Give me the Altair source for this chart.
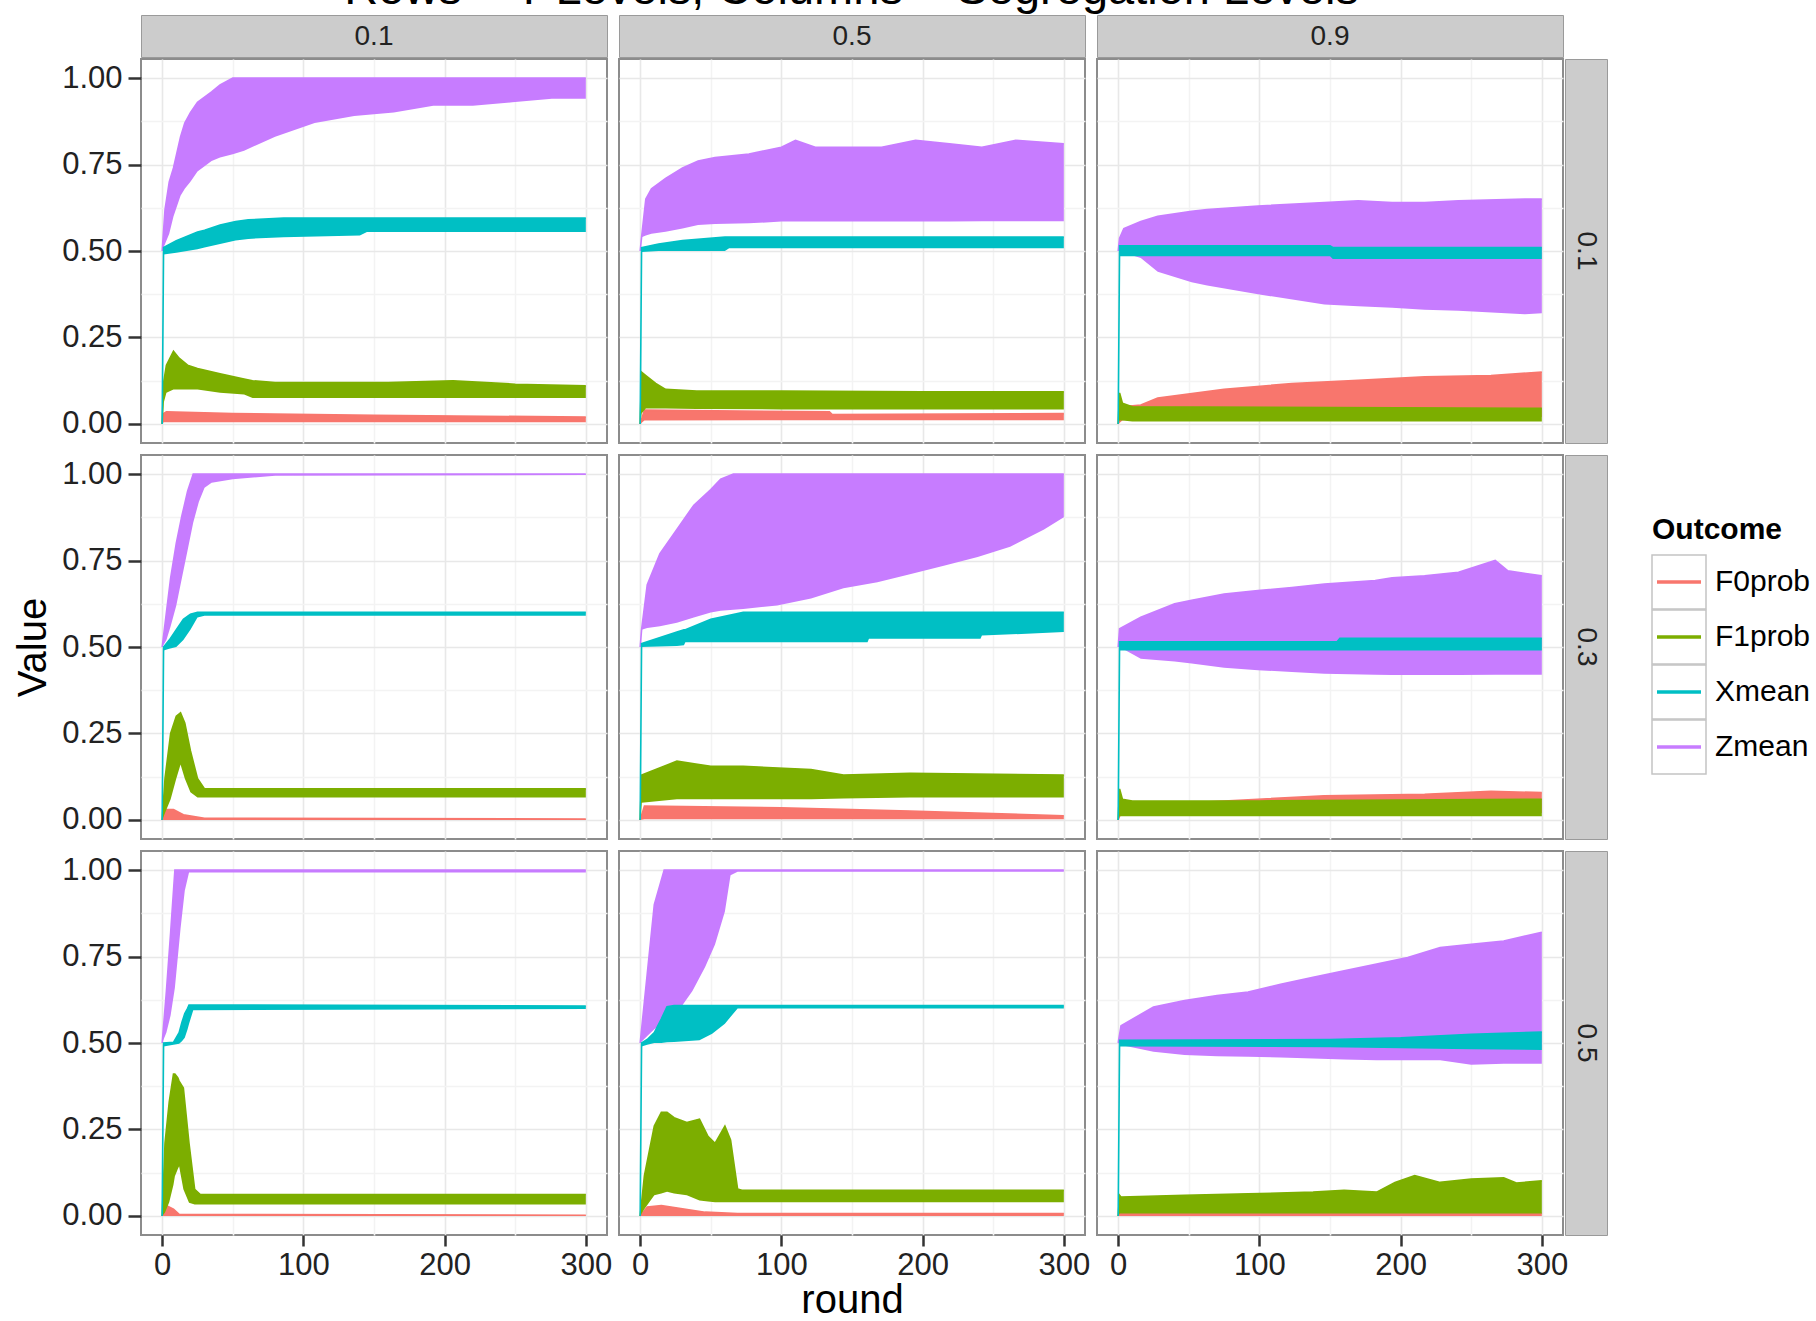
import altair as alt
import pandas as pd

# ---------------- categories / labels ----------------
ROW_LEVELS = ["0.1", "0.3", "0.5"]
COL_LEVELS = ["0.1", "0.5", "0.9"]
OUTCOMES = ["F0prob", "F1prob", "Xmean", "Zmean"]
COLORS = ["#F8766D", "#7CAE00", "#00BFC4", "#C77CFF"]
DRAW_ORDER = ["F0prob", "F1prob", "Zmean", "Xmean"]
X_GRID = [0, 50, 100, 150, 200, 250, 300]
Y_GRID = [0.0, 0.125, 0.25, 0.375, 0.5, 0.625, 0.75, 0.875, 1.0]
TITLE = "Rows = T Levels, Columns = Segregation Levels"
LEGEND_TITLE = "Outcome"

# ------------- band envelopes (lower / upper) -------------
# row 0.1, column 0.1
R1C1_F0_ROUND = [0, 1, 3, 50, 150, 300]
R1C1_F0_LO = [0, 0.005, 0.005, 0.005, 0.005, 0.005]
R1C1_F0_HI = [0, 0.03, 0.035, 0.03, 0.025, 0.02]
R1C1_F1_ROUND = [0, 1, 3, 8, 12, 18, 25, 41, 58, 64, 80, 120, 160, 206, 250, 300]
R1C1_F1_LO = [0, 0.06, 0.09, 0.10, 0.10, 0.10, 0.10, 0.09, 0.085, 0.075, 0.075, 0.075, 0.075, 0.075, 0.075, 0.075]
R1C1_F1_HI = [0, 0.12, 0.17, 0.21, 0.19, 0.17, 0.16, 0.145, 0.13, 0.125, 0.12, 0.12, 0.12, 0.125, 0.115, 0.11]
R1C1_X_ROUND = [0, 1, 10, 25, 30, 41, 52, 61, 86, 140, 145, 300]
R1C1_X_LO = [0, 0.49, 0.495, 0.505, 0.51, 0.52, 0.53, 0.535, 0.54, 0.545, 0.555, 0.555]
R1C1_X_HI = [0, 0.51, 0.53, 0.555, 0.56, 0.575, 0.585, 0.59, 0.595, 0.595, 0.595, 0.595]
R1C1_Z_ROUND = [0, 2, 5, 8, 13, 16, 20, 25, 35, 41, 50, 58, 80, 108, 136, 164, 192, 220, 248, 276, 300]
R1C1_Z_LO = [0.5, 0.52, 0.55, 0.6, 0.66, 0.68, 0.7, 0.73, 0.76, 0.77, 0.78, 0.79, 0.83, 0.87, 0.89, 0.9, 0.92, 0.92, 0.93, 0.94, 0.94]
R1C1_Z_HI = [0.5, 0.62, 0.7, 0.74, 0.83, 0.87, 0.9, 0.93, 0.96, 0.98, 1.0, 1.0, 1.0, 1.0, 1.0, 1.0, 1.0, 1.0, 1.0, 1.0, 1.0]

# row 0.1, column 0.5
R1C2_F0_ROUND = [0, 3, 134, 136, 300]
R1C2_F0_LO = [0, 0.01, 0.011, 0.011, 0.011]
R1C2_F0_HI = [0, 0.04, 0.035, 0.027, 0.03]
R1C2_F1_ROUND = [0, 1, 4, 11, 18, 40, 100, 200, 300]
R1C2_F1_LO = [0, 0.03, 0.045, 0.045, 0.045, 0.043, 0.042, 0.042, 0.042]
R1C2_F1_HI = [0, 0.15, 0.14, 0.117, 0.1, 0.095, 0.095, 0.093, 0.093]
R1C2_X_ROUND = [0, 1, 13, 30, 60, 63, 300]
R1C2_X_LO = [0, 0.497, 0.5, 0.5, 0.5, 0.508, 0.508]
R1C2_X_HI = [0, 0.51, 0.52, 0.53, 0.54, 0.54, 0.54]
R1C2_Z_ROUND = [0, 1, 4, 8, 18, 30, 41, 53, 77, 100, 110, 124, 150, 171, 195, 219, 242, 266, 300]
R1C2_Z_LO = [0.5, 0.54, 0.545, 0.55, 0.556, 0.565, 0.575, 0.578, 0.58, 0.585, 0.585, 0.585, 0.585, 0.585, 0.585, 0.585, 0.586, 0.586, 0.586]
R1C2_Z_HI = [0.5, 0.54, 0.65, 0.68, 0.71, 0.74, 0.76, 0.77, 0.78, 0.8, 0.82, 0.8, 0.8, 0.8, 0.82, 0.81, 0.8, 0.82, 0.81]

# row 0.1, column 0.9
R1C3_F0_ROUND = [0, 3, 16, 28, 75, 123, 170, 217, 264, 300]
R1C3_F0_LO = [0, 0.01, 0.02, 0.02, 0.02, 0.02, 0.02, 0.02, 0.02, 0.02]
R1C3_F0_HI = [0, 0.05, 0.055, 0.075, 0.1, 0.117, 0.126, 0.136, 0.14, 0.15]
R1C3_F1_ROUND = [0, 1, 3, 10, 300]
R1C3_F1_LO = [0, 0.01, 0.01, 0.007, 0.007]
R1C3_F1_HI = [0, 0.09, 0.06, 0.05, 0.045]
R1C3_X_ROUND = [0, 1, 150, 152, 300]
R1C3_X_LO = [0, 0.485, 0.485, 0.477, 0.477]
R1C3_X_HI = [0, 0.515, 0.515, 0.51, 0.51]
R1C3_Z_ROUND = [0, 1, 4, 16, 28, 52, 63, 99, 146, 170, 194, 217, 241, 288, 300]
R1C3_Z_LO = [0.5, 0.5, 0.495, 0.48, 0.44, 0.41, 0.4, 0.375, 0.345, 0.34, 0.336, 0.33, 0.327, 0.317, 0.32]
R1C3_Z_HI = [0.5, 0.537, 0.565, 0.585, 0.6, 0.615, 0.62, 0.63, 0.64, 0.645, 0.64, 0.64, 0.645, 0.65, 0.65]

# row 0.3, column 0.1
R2C1_F0_ROUND = [0, 3, 8, 15, 30, 300]
R2C1_F0_LO = [0, 0, 0, 0, 0, 0]
R2C1_F0_HI = [0, 0.03, 0.03, 0.015, 0.005, 0.003]
R2C1_F1_ROUND = [0, 2, 6, 10, 13, 16, 20, 25, 30, 300]
R2C1_F1_LO = [0, 0.02, 0.06, 0.12, 0.16, 0.12, 0.08, 0.065, 0.065, 0.065]
R2C1_F1_HI = [0, 0.12, 0.25, 0.3, 0.31, 0.28, 0.2, 0.12, 0.09, 0.09]
R2C1_X_ROUND = [0, 1, 5, 10, 15, 20, 25, 30, 300]
R2C1_X_LO = [0, 0.49, 0.495, 0.5, 0.52, 0.55, 0.585, 0.59, 0.59]
R2C1_X_HI = [0, 0.5, 0.52, 0.55, 0.58, 0.595, 0.6, 0.6, 0.6]
R2C1_Z_ROUND = [0, 3, 6, 10, 14, 18, 22, 26, 30, 35, 50, 80, 300]
R2C1_Z_LO = [0.5, 0.52, 0.56, 0.62, 0.7, 0.78, 0.86, 0.92, 0.96, 0.975, 0.985, 0.995, 0.997]
R2C1_Z_HI = [0.5, 0.6, 0.7, 0.8, 0.88, 0.95, 1.0, 1.0, 1.0, 1.0, 1.0, 1.0, 1.0]

# row 0.3, column 0.5
R2C2_F0_ROUND = [0, 3, 100, 191, 300]
R2C2_F0_LO = [0, 0.002, 0.002, 0.002, 0.002]
R2C2_F0_HI = [0, 0.04, 0.035, 0.026, 0.012]
R2C2_F1_ROUND = [0, 1, 26, 50, 73, 121, 144, 191, 300]
R2C2_F1_LO = [0, 0.05, 0.06, 0.06, 0.06, 0.06, 0.062, 0.065, 0.065]
R2C2_F1_HI = [0, 0.13, 0.17, 0.155, 0.155, 0.146, 0.13, 0.135, 0.13]
R2C2_X_ROUND = [0, 1, 26, 31, 32, 50, 73, 161, 162, 241, 242, 300]
R2C2_X_LO = [0, 0.5, 0.503, 0.505, 0.514, 0.514, 0.514, 0.514, 0.524, 0.524, 0.533, 0.543]
R2C2_X_HI = [0, 0.51, 0.543, 0.55, 0.55, 0.58, 0.6, 0.6, 0.6, 0.6, 0.6, 0.6]
R2C2_Z_ROUND = [0, 1, 5, 14, 26, 38, 50, 57, 66, 73, 97, 121, 144, 168, 191, 215, 239, 262, 286, 300]
R2C2_Z_LO = [0.5, 0.55, 0.555, 0.56, 0.57, 0.585, 0.6, 0.605, 0.608, 0.61, 0.62, 0.64, 0.67, 0.687, 0.71, 0.735, 0.76, 0.79, 0.84, 0.875]
R2C2_Z_HI = [0.5, 0.55, 0.68, 0.77, 0.84, 0.91, 0.955, 0.985, 1.0, 1.0, 1.0, 1.0, 1.0, 1.0, 1.0, 1.0, 1.0, 1.0, 1.0, 1.0]

# row 0.3, column 0.9
R2C3_F0_ROUND = [0, 3, 75, 146, 217, 264, 300]
R2C3_F0_LO = [0, 0.02, 0.02, 0.02, 0.02, 0.02, 0.02]
R2C3_F0_HI = [0, 0.04, 0.055, 0.07, 0.074, 0.083, 0.079]
R2C3_F1_ROUND = [0, 1, 3, 10, 100, 300]
R2C3_F1_LO = [0, 0.011, 0.011, 0.011, 0.011, 0.011]
R2C3_F1_HI = [0, 0.09, 0.06, 0.055, 0.055, 0.06]
R2C3_X_ROUND = [0, 1, 155, 157, 300]
R2C3_X_LO = [0, 0.49, 0.49, 0.49, 0.49]
R2C3_X_HI = [0, 0.515, 0.515, 0.525, 0.525]
R2C3_Z_ROUND = [0, 1, 16, 40, 52, 75, 99, 123, 146, 182, 194, 217, 241, 267, 276, 300]
R2C3_Z_LO = [0.5, 0.5, 0.466, 0.458, 0.452, 0.44, 0.433, 0.428, 0.423, 0.42, 0.419, 0.419, 0.419, 0.42, 0.42, 0.42]
R2C3_Z_HI = [0.5, 0.553, 0.586, 0.625, 0.635, 0.653, 0.663, 0.672, 0.682, 0.692, 0.7, 0.706, 0.716, 0.75, 0.72, 0.706]

# row 0.5, column 0.1
R3C1_F0_ROUND = [0, 3, 8, 12, 300]
R3C1_F0_LO = [0, 0, 0, 0, 0]
R3C1_F0_HI = [0, 0.03, 0.02, 0.005, 0.002]
R3C1_F1_ROUND = [0, 2, 5, 8, 9, 11, 12, 15, 19, 23, 27, 300]
R3C1_F1_LO = [0, 0.01, 0.04, 0.09, 0.115, 0.135, 0.144, 0.077, 0.038, 0.033, 0.033, 0.033]
R3C1_F1_HI = [0, 0.21, 0.33, 0.41, 0.41, 0.4, 0.39, 0.37, 0.21, 0.077, 0.062, 0.062]
R3C1_X_ROUND = [0, 1, 8, 12, 14, 16, 18, 19, 22, 300]
R3C1_X_LO = [0, 0.49, 0.495, 0.498, 0.505, 0.515, 0.54, 0.555, 0.595, 0.598]
R3C1_X_HI = [0, 0.5, 0.502, 0.53, 0.56, 0.585, 0.6, 0.61, 0.61, 0.607]
R3C1_Z_ROUND = [0, 3, 6, 9, 13, 16, 19, 300]
R3C1_Z_LO = [0.5, 0.53, 0.58, 0.66, 0.83, 0.94, 0.993, 0.993]
R3C1_Z_HI = [0.5, 0.65, 0.82, 1.0, 1.0, 1.0, 1.0, 1.0]

# row 0.5, column 0.5
R3C2_F0_ROUND = [0, 5, 15, 46, 69, 300]
R3C2_F0_LO = [0, 0, 0, 0, 0, 0]
R3C2_F0_HI = [0, 0.026, 0.03, 0.011, 0.007, 0.007]
R3C2_F1_ROUND = [0, 3, 10, 15, 19, 24, 33, 42, 48, 53, 60, 64, 69, 72, 300]
R3C2_F1_LO = [0, 0.02, 0.06, 0.065, 0.07, 0.065, 0.06, 0.045, 0.042, 0.04, 0.04, 0.04, 0.04, 0.04, 0.04]
R3C2_F1_HI = [0, 0.117, 0.26, 0.3, 0.3, 0.284, 0.27, 0.28, 0.23, 0.21, 0.26, 0.22, 0.078, 0.074, 0.074]
R3C2_X_ROUND = [0, 1, 5, 10, 15, 19, 24, 42, 51, 60, 69, 300]
R3C2_X_LO = [0, 0.49, 0.495, 0.5, 0.5, 0.502, 0.503, 0.508, 0.527, 0.556, 0.6, 0.6]
R3C2_X_HI = [0, 0.5, 0.51, 0.53, 0.57, 0.605, 0.608, 0.608, 0.608, 0.608, 0.608, 0.608]
R3C2_Z_ROUND = [0, 5, 10, 17, 24, 37, 46, 53, 60, 64, 69, 300]
R3C2_Z_LO = [0.5, 0.52, 0.54, 0.56, 0.575, 0.65, 0.72, 0.785, 0.88, 0.985, 0.995, 0.995]
R3C2_Z_HI = [0.5, 0.7, 0.9, 1.0, 1.0, 1.0, 1.0, 1.0, 1.0, 1.0, 1.0, 1.0]

# row 0.5, column 0.9
R3C3_F0_ROUND = [0, 1, 300]
R3C3_F0_LO = [0, 0, 0]
R3C3_F0_HI = [0, 0.008, 0.008]
R3C3_F1_ROUND = [0, 1, 2, 47, 92, 138, 160, 183, 196, 210, 228, 250, 273, 282, 300]
R3C3_F1_LO = [0, 0.007, 0.007, 0.007, 0.007, 0.007, 0.007, 0.007, 0.007, 0.007, 0.007, 0.007, 0.007, 0.007, 0.007]
R3C3_F1_HI = [0, 0.06, 0.055, 0.06, 0.064, 0.069, 0.074, 0.069, 0.097, 0.117, 0.097, 0.107, 0.11, 0.095, 0.102]
R3C3_X_ROUND = [0, 1, 150, 200, 250, 300]
R3C3_X_LO = [0, 0.49, 0.488, 0.485, 0.482, 0.48]
R3C3_X_HI = [0, 0.508, 0.51, 0.515, 0.525, 0.532]
R3C3_Z_ROUND = [0, 2, 25, 47, 70, 92, 115, 138, 160, 183, 205, 228, 250, 273, 300]
R3C3_Z_LO = [0.5, 0.494, 0.475, 0.465, 0.462, 0.46, 0.458, 0.455, 0.452, 0.45, 0.45, 0.45, 0.437, 0.44, 0.44]
R3C3_Z_HI = [0.5, 0.55, 0.604, 0.623, 0.637, 0.647, 0.67, 0.69, 0.709, 0.728, 0.747, 0.776, 0.785, 0.795, 0.82]

# ---------------- build tables from the arrays ----------------
G = globals()
CODE = {"F0prob": "F0", "F1prob": "F1", "Xmean": "X", "Zmean": "Z"}


def series_frame(ri, ci, outcome):
    key = "R%dC%d_%s" % (ri + 1, ci + 1, CODE[outcome])
    rounds, lo, hi = G[key + "_ROUND"], G[key + "_LO"], G[key + "_HI"]
    assert len(rounds) == len(lo) == len(hi), key
    return pd.DataFrame({"round": rounds, "lo": lo, "hi": hi, "Outcome": outcome})


# ---------------- styling ----------------
FONT = "Liberation Sans"
PW, PH = 466, 384          # panel size
GAP = 8                    # spacer (plus 2+2 spacing -> 12 px between panels)
STRIP = 42
LEG_W = 203
TXT = "#222222"

color_scale = alt.Scale(domain=OUTCOMES, range=COLORS)
x_scale = alt.Scale(domain=[-15, 315], nice=False, zero=False)
y_scale = alt.Scale(domain=[-0.055, 1.055], nice=False, zero=False)


def make_axes(ri, ci):
    bottom = ri == 2
    left = ci == 0
    x_axis = alt.Axis(
        values=X_GRID, grid=True, domain=False,
        gridColor={"condition": {"test": "datum.value % 100 !== 0", "value": "#f3f3f3"}, "value": "#e8e8e8"},
        gridWidth=1.6,
        labels=bottom, ticks=bottom, tickSize=11, tickWidth=2.5, tickColor="#333333",
        tickOpacity={"condition": {"test": "datum.value % 100 !== 0", "value": 0}, "value": 1},
        labelExpr="datum.value % 100 === 0 ? datum.label : ''",
        labelFontSize=31, labelFont=FONT, labelColor=TXT, labelPadding=4,
        title=("round" if (bottom and ci == 1) else None),
        titleFontSize=40, titleFont=FONT, titleFontWeight="normal", titleColor="black",
        titlePadding=0,
    )
    y_axis = alt.Axis(
        values=Y_GRID, grid=True, domain=False, format=".2f",
        gridColor={"condition": {"test": "(datum.value * 4) % 1 !== 0", "value": "#f3f3f3"}, "value": "#e8e8e8"},
        gridWidth=1.6,
        labels=left, ticks=left, tickSize=13, tickWidth=2.5, tickColor="#333333",
        tickOpacity={"condition": {"test": "(datum.value * 4) % 1 !== 0", "value": 0}, "value": 1},
        labelExpr="(datum.value * 4) % 1 === 0 ? datum.label : ''",
        labelFontSize=31, labelFont=FONT, labelColor=TXT, labelPadding=6,
        title=("Value" if (left and ri == 1) else None),
        titleFontSize=40, titleFont=FONT, titleFontWeight="normal", titleColor="black",
        titlePadding=8,
    )
    return x_axis, y_axis


def panel(ri, ci):
    x_axis, y_axis = make_axes(ri, ci)
    layers = []
    for outcome in DRAW_ORDER:
        base = alt.Chart(series_frame(ri, ci, outcome))
        x_enc = alt.X("round:Q", scale=x_scale, axis=x_axis)
        area = base.mark_area(opacity=1, interpolate="linear").encode(
            x=x_enc,
            y=alt.Y("hi:Q", scale=y_scale, axis=y_axis),
            y2="lo:Q",
            fill=alt.Fill("Outcome:N", scale=color_scale, legend=None),
        )
        edge = base.mark_line(strokeWidth=1.6).encode(
            x=x_enc,
            y=alt.Y("hi:Q", scale=y_scale, axis=y_axis),
            stroke=alt.Stroke("Outcome:N", scale=color_scale, legend=None),
        )
        layers += [area, edge]
    return alt.layer(*layers).properties(
        width=PW, height=PH,
        view=alt.ViewBackground(fill="white", stroke="#8c8c8c", strokeWidth=2),
    )


def legend_panel():
    keys = pd.DataFrame({"Outcome": OUTCOMES})
    ypos = alt.Y("Outcome:N", scale=alt.Scale(type="point", domain=OUTCOMES, range=[127, 292], padding=0),
                 axis=None)
    boxes = alt.Chart(keys).mark_square(size=54 * 54, fill="white", stroke="#c4c4c4",
                                        strokeWidth=1.5, opacity=1).encode(x=alt.value(70), y=ypos)
    lines = alt.Chart(keys).mark_rule(strokeWidth=3.5).encode(
        x=alt.value(48), x2=alt.value(92), y=ypos,
        stroke=alt.Stroke("Outcome:N", scale=color_scale, legend=None),
    )
    labels = alt.Chart(keys).mark_text(font=FONT, fontSize=30, color="black", align="left",
                                       baseline="middle").encode(
        x=alt.value(106), y=ypos, text="Outcome:N")
    title = alt.Chart(pd.DataFrame({"t": [LEGEND_TITLE]})).mark_text(
        font=FONT, fontSize=30, fontWeight="bold", color="black", align="left", baseline="middle"
    ).encode(x=alt.value(43), y=alt.value(75), text="t:N")
    return alt.layer(boxes, lines, labels, title).properties(
        width=LEG_W, height=PH,
        view=alt.ViewBackground(fill="transparent", stroke="transparent"),
    )


def col_strip(label):
    return alt.Chart(pd.DataFrame({"label": [label]})).mark_text(
        font=FONT, fontSize=28, color=TXT, align="center", baseline="middle"
    ).encode(text="label:N", x=alt.value(PW / 2), y=alt.value(STRIP / 2 + 1)).properties(
        width=PW, height=STRIP,
        view=alt.ViewBackground(fill="#cccccc", stroke="#9a9a9a", strokeWidth=1),
    )


def row_strip(label):
    return alt.Chart(pd.DataFrame({"label": [label]})).mark_text(
        font=FONT, fontSize=28, color=TXT, align="center", baseline="middle", angle=90
    ).encode(text="label:N", x=alt.value(STRIP / 2), y=alt.value(PH / 2)).properties(
        width=STRIP, height=PH,
        view=alt.ViewBackground(fill="#cccccc", stroke="#9a9a9a", strokeWidth=1),
    )


def spacer(w, h):
    return alt.Chart(pd.DataFrame({"s": [0]})).mark_point(opacity=0, size=1).encode(
        x=alt.value(0), y=alt.value(0)
    ).properties(width=w, height=h,
                 view=alt.ViewBackground(fill="transparent", stroke="transparent"))


COL_W = [PW, GAP, PW, GAP, PW, STRIP, 1]
cells = []
# strip row
cells += [col_strip(COL_LEVELS[0]), spacer(GAP, STRIP), col_strip(COL_LEVELS[1]),
          spacer(GAP, STRIP), col_strip(COL_LEVELS[2]), spacer(STRIP, STRIP), spacer(1, STRIP)]
for ri in range(3):
    if ri > 0:
        cells += [spacer(w, GAP) for w in COL_W]
    cells += [panel(ri, 0), spacer(GAP, PH), panel(ri, 1), spacer(GAP, PH),
              panel(ri, 2), row_strip(ROW_LEVELS[ri]),
              (legend_panel() if ri == 1 else spacer(1, PH))]

chart = alt.concat(*cells, columns=7, spacing=2, bounds="flush", align="each").properties(
    title=alt.TitleParams(TITLE, fontSize=47, fontWeight="normal", font=FONT, color="black",
                          anchor="middle", frame="bounds", offset=0, dx=-61),
    padding={"left": 12, "top": -34, "right": 0, "bottom": -2},
    background="white",
).configure(font=FONT)

chart.save("out.html", embed_options={"renderer": "svg", "actions": False})
